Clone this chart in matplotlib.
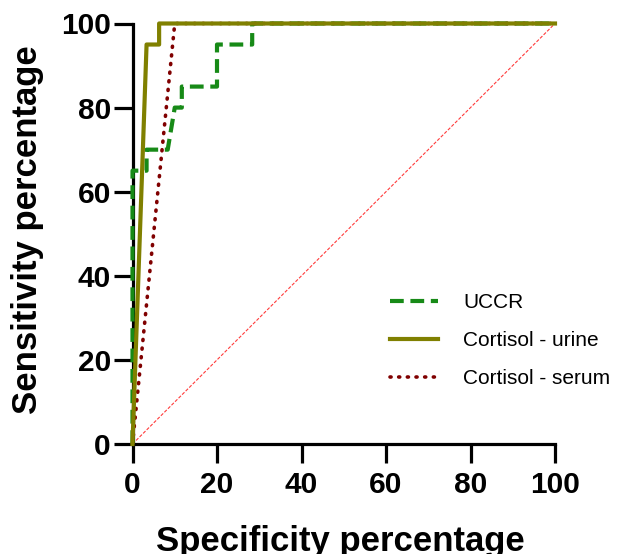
import matplotlib
matplotlib.use("Agg")
import matplotlib.pyplot as plt

# ROC curve data: x = 100% - specificity, y = sensitivity
uccr_x = [0, 0, 3.33, 3.33, 8.33, 10, 11.67, 11.67, 20, 20, 28.33, 28.33, 100]
uccr_y = [0, 65, 65, 70, 70, 80, 80, 85, 85, 95, 95, 100, 100]

urine_x = [0, 3.33, 6.3, 6.3, 100]
urine_y = [0, 95, 95, 100, 100]

serum_x = [0, 10, 100]
serum_y = [0, 100, 100]

ref_x = [0, 100]
ref_y = [0, 100]

labels = ["UCCR", "Cortisol - urine", "Cortisol - serum"]
ticks = [0, 20, 40, 60, 80, 100]

W, H = 621, 554
fig = plt.figure(figsize=(W / 100, H / 100), dpi=100)
left, right, top, bottom = 132.5, 555, 23.5, 444
ax = fig.add_axes([left / W, 1 - bottom / H, (right - left) / W, (bottom - top) / H])

ax.plot(ref_x, ref_y, color="#FF3B3B", lw=0.8, dashes=(3, 1.5), clip_on=False, zorder=2)
l_uccr, = ax.plot(uccr_x, uccr_y, color="#178A17", lw=3.0, dashes=(3.3, 1.6),
                  solid_capstyle="butt", clip_on=False, zorder=3, label=labels[0])
l_serum, = ax.plot(serum_x, serum_y, color="#800000", lw=2.6, dashes=(0.3, 2.1),
                   dash_capstyle="round", clip_on=False, zorder=4, label=labels[2])
l_urine, = ax.plot(urine_x, urine_y, color="#808000", lw=3.0, clip_on=False,
                   zorder=5, label=labels[1])

ax.set_xlim(0, 100)
ax.set_ylim(0, 100)
ax.set_xticks(ticks)
ax.set_yticks(ticks)
ax.set_xticklabels([str(t) for t in ticks])
ax.set_yticklabels([str(t) for t in ticks])

for s in ("top", "right"):
    ax.spines[s].set_visible(False)
for s in ("left", "bottom"):
    ax.spines[s].set_linewidth(2.3)
    ax.spines[s].set_capstyle("projecting")

ax.tick_params(axis="both", length=13.5, width=2.3, color="black")
ax.tick_params(axis="x", pad=6)
ax.tick_params(axis="y", pad=2)
for lab in ax.get_xticklabels() + ax.get_yticklabels():
    lab.set_fontfamily("Liberation Sans")
    lab.set_fontweight("bold")
    lab.set_fontsize(21.5)

ax.set_xlabel("Specificity percentage", fontfamily="Liberation Sans",
              fontweight="bold", fontsize=25, va="baseline")
ax.xaxis.set_label_coords((340 - left) / (right - left), (bottom - 551) / (bottom - top))
ax.set_ylabel("Sensitivity percentage", fontfamily="Liberation Sans",
              fontweight="bold", fontsize=25, va="baseline")
ax.yaxis.set_label_coords((37 - left) / (right - left), (bottom - 230) / (bottom - top))

leg = ax.legend(handles=[l_uccr, l_urine, l_serum], labels=labels,
                loc="upper left", bbox_to_anchor=(390 / W, 1 - 293 / H),
                bbox_transform=fig.transFigure, frameon=False,
                prop={"family": "Liberation Sans", "size": 15},
                handlelength=2.3, handletextpad=1.2, labelspacing=0.92,
                borderpad=0, borderaxespad=0)

fig.savefig("out.png", dpi=100)
